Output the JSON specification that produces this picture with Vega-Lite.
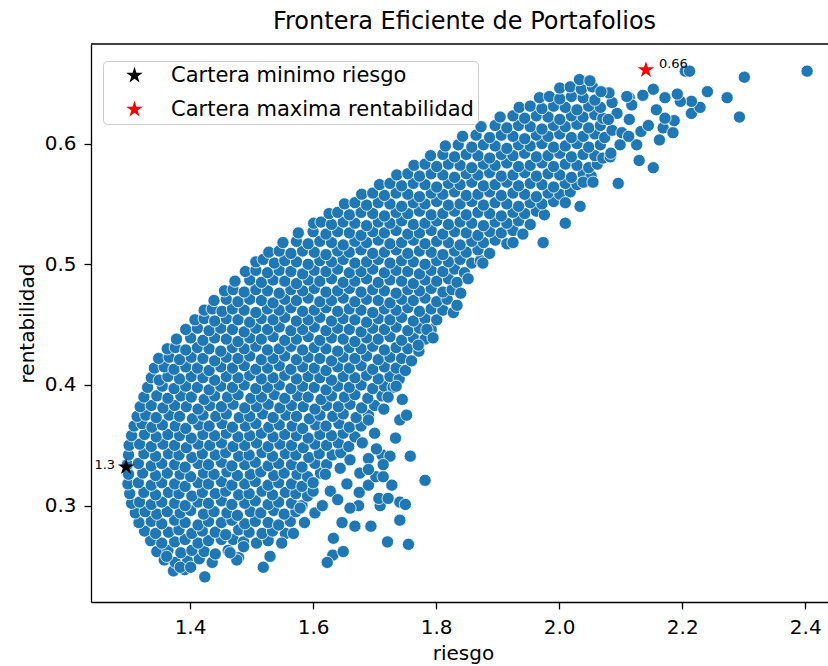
{
"$schema": "https://vega.github.io/schema/vega-lite/v6.json",
"width": 737, "height": 558,
"autosize": {"type": "none"},
"padding": {"left": 91, "top": 44, "right": 0, "bottom": 64},
"background": "white",
"title": {"text": "Frontera Eficiente de Portafolios", "fontSize": 24, "font": "DejaVu Sans", "fontWeight": "normal", "color": "#000000", "anchor": "middle", "offset": 9, "dx": 5},
"datasets": {
"carteras": [
{"cartera": "Cartera minimo riesgo", "x": 1.296, "y": 0.332, "etiqueta": "1.3"},
{"cartera": "Cartera maxima rentabilidad", "x": 2.141, "y": 0.661, "etiqueta": "0.66"}
],
"puntos": [
{"x":1.373,"y":0.246},{"x":1.391,"y":0.247},
{"x":1.358,"y":0.255},{"x":1.376,"y":0.253},{"x":1.396,"y":0.254},{"x":1.415,"y":0.256},{"x":1.436,"y":0.253},
{"x":1.346,"y":0.262},{"x":1.364,"y":0.263},{"x":1.385,"y":0.261},{"x":1.403,"y":0.263},{"x":1.423,"y":0.262},{"x":1.441,"y":0.260},{"x":1.462,"y":0.263},{"x":1.479,"y":0.257},
{"x":1.336,"y":0.271},{"x":1.354,"y":0.269},{"x":1.375,"y":0.270},{"x":1.392,"y":0.272},{"x":1.413,"y":0.269},{"x":1.430,"y":0.271},{"x":1.451,"y":0.272},{"x":1.470,"y":0.272},{"x":1.487,"y":0.270},{"x":1.508,"y":0.269},{"x":1.527,"y":0.271},
{"x":1.326,"y":0.279},{"x":1.344,"y":0.277},{"x":1.365,"y":0.278},{"x":1.382,"y":0.280},{"x":1.403,"y":0.277},{"x":1.420,"y":0.279},{"x":1.441,"y":0.278},{"x":1.458,"y":0.276},{"x":1.479,"y":0.280},{"x":1.496,"y":0.278},{"x":1.517,"y":0.277},{"x":1.534,"y":0.279},{"x":1.555,"y":0.277},
{"x":1.317,"y":0.286},{"x":1.337,"y":0.287},{"x":1.354,"y":0.285},{"x":1.375,"y":0.288},{"x":1.392,"y":0.286},{"x":1.413,"y":0.284},{"x":1.430,"y":0.287},{"x":1.451,"y":0.286},{"x":1.468,"y":0.288},{"x":1.489,"y":0.285},{"x":1.506,"y":0.287},{"x":1.527,"y":0.286},{"x":1.544,"y":0.284},{"x":1.563,"y":0.287},
{"x":1.311,"y":0.294},{"x":1.327,"y":0.295},{"x":1.346,"y":0.293},{"x":1.363,"y":0.295},{"x":1.384,"y":0.294},{"x":1.401,"y":0.296},{"x":1.422,"y":0.293},{"x":1.439,"y":0.295},{"x":1.460,"y":0.294},{"x":1.477,"y":0.292},{"x":1.498,"y":0.295},{"x":1.515,"y":0.294},{"x":1.536,"y":0.296},{"x":1.553,"y":0.293},{"x":1.572,"y":0.295},
{"x":1.305,"y":0.302},{"x":1.318,"y":0.303},{"x":1.337,"y":0.301},{"x":1.354,"y":0.303},{"x":1.375,"y":0.302},{"x":1.392,"y":0.300},{"x":1.413,"y":0.303},{"x":1.430,"y":0.302},{"x":1.451,"y":0.304},{"x":1.468,"y":0.301},{"x":1.489,"y":0.302},{"x":1.506,"y":0.304},{"x":1.527,"y":0.301},{"x":1.544,"y":0.303},{"x":1.565,"y":0.302},{"x":1.582,"y":0.300},
{"x":1.302,"y":0.310},{"x":1.325,"y":0.311},{"x":1.344,"y":0.309},{"x":1.365,"y":0.311},{"x":1.382,"y":0.310},{"x":1.403,"y":0.308},{"x":1.420,"y":0.311},{"x":1.441,"y":0.310},{"x":1.458,"y":0.312},{"x":1.479,"y":0.309},{"x":1.496,"y":0.310},{"x":1.517,"y":0.312},{"x":1.534,"y":0.309},{"x":1.555,"y":0.311},{"x":1.572,"y":0.310},{"x":1.591,"y":0.308},
{"x":1.299,"y":0.318},{"x":1.316,"y":0.319},{"x":1.337,"y":0.317},{"x":1.354,"y":0.319},{"x":1.375,"y":0.318},{"x":1.392,"y":0.316},{"x":1.413,"y":0.319},{"x":1.430,"y":0.318},{"x":1.451,"y":0.320},{"x":1.468,"y":0.317},{"x":1.489,"y":0.318},{"x":1.506,"y":0.320},{"x":1.527,"y":0.317},{"x":1.544,"y":0.319},{"x":1.565,"y":0.318},{"x":1.582,"y":0.316},{"x":1.601,"y":0.319},
{"x":1.300,"y":0.326},{"x":1.323,"y":0.327},{"x":1.344,"y":0.325},{"x":1.363,"y":0.327},{"x":1.384,"y":0.326},{"x":1.401,"y":0.324},{"x":1.422,"y":0.327},{"x":1.439,"y":0.326},{"x":1.460,"y":0.328},{"x":1.477,"y":0.325},{"x":1.498,"y":0.326},{"x":1.515,"y":0.328},{"x":1.536,"y":0.325},{"x":1.553,"y":0.327},{"x":1.574,"y":0.326},{"x":1.591,"y":0.324},{"x":1.612,"y":0.327},
{"x":1.298,"y":0.334},{"x":1.316,"y":0.335},{"x":1.337,"y":0.333},{"x":1.354,"y":0.335},{"x":1.375,"y":0.334},{"x":1.392,"y":0.332},{"x":1.413,"y":0.335},{"x":1.430,"y":0.334},{"x":1.451,"y":0.336},{"x":1.468,"y":0.333},{"x":1.489,"y":0.334},{"x":1.506,"y":0.336},{"x":1.527,"y":0.333},{"x":1.544,"y":0.335},{"x":1.565,"y":0.334},{"x":1.582,"y":0.332},{"x":1.603,"y":0.335},{"x":1.622,"y":0.334},
{"x":1.300,"y":0.342},{"x":1.325,"y":0.343},{"x":1.344,"y":0.341},{"x":1.365,"y":0.343},{"x":1.382,"y":0.342},{"x":1.403,"y":0.340},{"x":1.420,"y":0.343},{"x":1.441,"y":0.342},{"x":1.458,"y":0.344},{"x":1.479,"y":0.341},{"x":1.496,"y":0.342},{"x":1.517,"y":0.344},{"x":1.534,"y":0.341},{"x":1.555,"y":0.343},{"x":1.572,"y":0.342},{"x":1.593,"y":0.340},{"x":1.610,"y":0.343},{"x":1.631,"y":0.342},{"x":1.645,"y":0.344},
{"x":1.301,"y":0.350},{"x":1.318,"y":0.351},{"x":1.337,"y":0.349},{"x":1.356,"y":0.351},{"x":1.375,"y":0.350},{"x":1.394,"y":0.348},{"x":1.413,"y":0.351},{"x":1.432,"y":0.350},{"x":1.451,"y":0.352},{"x":1.470,"y":0.349},{"x":1.489,"y":0.350},{"x":1.508,"y":0.352},{"x":1.527,"y":0.349},{"x":1.546,"y":0.351},{"x":1.565,"y":0.350},{"x":1.584,"y":0.348},{"x":1.603,"y":0.351},{"x":1.622,"y":0.350},{"x":1.641,"y":0.352},{"x":1.658,"y":0.349},
{"x":1.305,"y":0.358},{"x":1.326,"y":0.359},{"x":1.345,"y":0.357},{"x":1.364,"y":0.359},{"x":1.383,"y":0.358},{"x":1.402,"y":0.356},{"x":1.421,"y":0.359},{"x":1.440,"y":0.358},{"x":1.459,"y":0.360},{"x":1.478,"y":0.357},{"x":1.497,"y":0.358},{"x":1.516,"y":0.360},{"x":1.535,"y":0.357},{"x":1.554,"y":0.359},{"x":1.573,"y":0.358},{"x":1.592,"y":0.356},{"x":1.611,"y":0.359},{"x":1.630,"y":0.358},{"x":1.649,"y":0.360},{"x":1.668,"y":0.357},
{"x":1.309,"y":0.366},{"x":1.322,"y":0.368},{"x":1.338,"y":0.365},{"x":1.355,"y":0.367},{"x":1.376,"y":0.366},{"x":1.393,"y":0.364},{"x":1.414,"y":0.367},{"x":1.431,"y":0.366},{"x":1.452,"y":0.368},{"x":1.469,"y":0.365},{"x":1.490,"y":0.366},{"x":1.507,"y":0.368},{"x":1.528,"y":0.365},{"x":1.545,"y":0.367},{"x":1.566,"y":0.366},{"x":1.583,"y":0.364},{"x":1.604,"y":0.367},{"x":1.621,"y":0.366},{"x":1.642,"y":0.368},{"x":1.659,"y":0.365},{"x":1.678,"y":0.366},
{"x":1.314,"y":0.374},{"x":1.328,"y":0.375},{"x":1.345,"y":0.373},{"x":1.366,"y":0.375},{"x":1.383,"y":0.374},{"x":1.404,"y":0.372},{"x":1.421,"y":0.375},{"x":1.442,"y":0.374},{"x":1.459,"y":0.376},{"x":1.480,"y":0.373},{"x":1.497,"y":0.374},{"x":1.518,"y":0.376},{"x":1.535,"y":0.373},{"x":1.556,"y":0.375},{"x":1.573,"y":0.374},{"x":1.594,"y":0.372},{"x":1.611,"y":0.375},{"x":1.632,"y":0.374},{"x":1.649,"y":0.376},{"x":1.670,"y":0.373},{"x":1.690,"y":0.375},
{"x":1.319,"y":0.382},{"x":1.337,"y":0.383},{"x":1.356,"y":0.381},{"x":1.375,"y":0.383},{"x":1.394,"y":0.382},{"x":1.413,"y":0.380},{"x":1.432,"y":0.383},{"x":1.451,"y":0.382},{"x":1.470,"y":0.384},{"x":1.489,"y":0.381},{"x":1.508,"y":0.382},{"x":1.527,"y":0.384},{"x":1.546,"y":0.381},{"x":1.565,"y":0.383},{"x":1.584,"y":0.382},{"x":1.603,"y":0.380},{"x":1.622,"y":0.383},{"x":1.641,"y":0.382},{"x":1.660,"y":0.384},{"x":1.679,"y":0.381},{"x":1.700,"y":0.383},
{"x":1.325,"y":0.390},{"x":1.346,"y":0.391},{"x":1.364,"y":0.389},{"x":1.385,"y":0.391},{"x":1.402,"y":0.390},{"x":1.423,"y":0.388},{"x":1.440,"y":0.391},{"x":1.461,"y":0.390},{"x":1.478,"y":0.392},{"x":1.499,"y":0.389},{"x":1.516,"y":0.390},{"x":1.537,"y":0.392},{"x":1.554,"y":0.389},{"x":1.575,"y":0.391},{"x":1.592,"y":0.390},{"x":1.613,"y":0.388},{"x":1.630,"y":0.391},{"x":1.651,"y":0.390},{"x":1.668,"y":0.392},{"x":1.689,"y":0.389},{"x":1.712,"y":0.391},
{"x":1.331,"y":0.398},{"x":1.355,"y":0.399},{"x":1.374,"y":0.397},{"x":1.393,"y":0.399},{"x":1.412,"y":0.398},{"x":1.431,"y":0.396},{"x":1.450,"y":0.399},{"x":1.469,"y":0.398},{"x":1.488,"y":0.400},{"x":1.507,"y":0.397},{"x":1.526,"y":0.398},{"x":1.545,"y":0.400},{"x":1.564,"y":0.397},{"x":1.583,"y":0.399},{"x":1.602,"y":0.398},{"x":1.621,"y":0.396},{"x":1.640,"y":0.399},{"x":1.659,"y":0.398},{"x":1.678,"y":0.400},{"x":1.697,"y":0.397},{"x":1.716,"y":0.399},{"x":1.730,"y":0.398},
{"x":1.337,"y":0.406},{"x":1.350,"y":0.404},{"x":1.364,"y":0.407},{"x":1.383,"y":0.405},{"x":1.402,"y":0.407},{"x":1.421,"y":0.406},{"x":1.440,"y":0.404},{"x":1.459,"y":0.407},{"x":1.478,"y":0.406},{"x":1.497,"y":0.408},{"x":1.516,"y":0.405},{"x":1.535,"y":0.406},{"x":1.554,"y":0.408},{"x":1.573,"y":0.405},{"x":1.592,"y":0.407},{"x":1.611,"y":0.406},{"x":1.630,"y":0.404},{"x":1.649,"y":0.407},{"x":1.668,"y":0.406},{"x":1.687,"y":0.408},{"x":1.706,"y":0.405},{"x":1.725,"y":0.407},{"x":1.740,"y":0.405},
{"x":1.342,"y":0.414},{"x":1.358,"y":0.415},{"x":1.374,"y":0.413},{"x":1.393,"y":0.415},{"x":1.412,"y":0.414},{"x":1.431,"y":0.412},{"x":1.450,"y":0.415},{"x":1.469,"y":0.414},{"x":1.488,"y":0.416},{"x":1.507,"y":0.413},{"x":1.526,"y":0.414},{"x":1.545,"y":0.416},{"x":1.564,"y":0.413},{"x":1.583,"y":0.415},{"x":1.602,"y":0.414},{"x":1.621,"y":0.412},{"x":1.640,"y":0.415},{"x":1.659,"y":0.414},{"x":1.678,"y":0.416},{"x":1.697,"y":0.413},{"x":1.716,"y":0.415},{"x":1.735,"y":0.414},{"x":1.750,"y":0.412},
{"x":1.349,"y":0.422},{"x":1.366,"y":0.423},{"x":1.383,"y":0.421},{"x":1.402,"y":0.423},{"x":1.421,"y":0.422},{"x":1.440,"y":0.420},{"x":1.459,"y":0.423},{"x":1.478,"y":0.422},{"x":1.497,"y":0.424},{"x":1.516,"y":0.421},{"x":1.535,"y":0.422},{"x":1.554,"y":0.424},{"x":1.573,"y":0.421},{"x":1.592,"y":0.423},{"x":1.611,"y":0.422},{"x":1.630,"y":0.420},{"x":1.649,"y":0.423},{"x":1.668,"y":0.422},{"x":1.687,"y":0.424},{"x":1.706,"y":0.421},{"x":1.725,"y":0.423},{"x":1.744,"y":0.422},{"x":1.760,"y":0.420},
{"x":1.363,"y":0.430},{"x":1.376,"y":0.431},{"x":1.393,"y":0.429},{"x":1.412,"y":0.431},{"x":1.431,"y":0.430},{"x":1.450,"y":0.428},{"x":1.469,"y":0.431},{"x":1.488,"y":0.430},{"x":1.507,"y":0.432},{"x":1.526,"y":0.429},{"x":1.545,"y":0.430},{"x":1.564,"y":0.432},{"x":1.583,"y":0.429},{"x":1.602,"y":0.431},{"x":1.621,"y":0.430},{"x":1.640,"y":0.428},{"x":1.659,"y":0.431},{"x":1.678,"y":0.430},{"x":1.697,"y":0.432},{"x":1.716,"y":0.429},{"x":1.735,"y":0.431},{"x":1.754,"y":0.430},{"x":1.772,"y":0.428},
{"x":1.378,"y":0.438},{"x":1.401,"y":0.439},{"x":1.421,"y":0.437},{"x":1.440,"y":0.439},{"x":1.459,"y":0.438},{"x":1.478,"y":0.436},{"x":1.497,"y":0.439},{"x":1.516,"y":0.438},{"x":1.535,"y":0.440},{"x":1.554,"y":0.437},{"x":1.573,"y":0.438},{"x":1.592,"y":0.440},{"x":1.611,"y":0.437},{"x":1.630,"y":0.439},{"x":1.649,"y":0.438},{"x":1.668,"y":0.436},{"x":1.687,"y":0.439},{"x":1.706,"y":0.438},{"x":1.725,"y":0.440},{"x":1.744,"y":0.437},{"x":1.763,"y":0.439},{"x":1.782,"y":0.438},
{"x":1.393,"y":0.446},{"x":1.412,"y":0.447},{"x":1.431,"y":0.445},{"x":1.450,"y":0.447},{"x":1.469,"y":0.446},{"x":1.488,"y":0.444},{"x":1.507,"y":0.447},{"x":1.526,"y":0.446},{"x":1.545,"y":0.448},{"x":1.564,"y":0.445},{"x":1.583,"y":0.446},{"x":1.602,"y":0.448},{"x":1.621,"y":0.445},{"x":1.640,"y":0.447},{"x":1.659,"y":0.446},{"x":1.678,"y":0.444},{"x":1.697,"y":0.447},{"x":1.716,"y":0.446},{"x":1.735,"y":0.448},{"x":1.754,"y":0.445},{"x":1.773,"y":0.447},{"x":1.792,"y":0.446},
{"x":1.408,"y":0.454},{"x":1.423,"y":0.455},{"x":1.440,"y":0.453},{"x":1.459,"y":0.455},{"x":1.478,"y":0.454},{"x":1.497,"y":0.452},{"x":1.516,"y":0.455},{"x":1.535,"y":0.454},{"x":1.554,"y":0.456},{"x":1.573,"y":0.453},{"x":1.592,"y":0.454},{"x":1.611,"y":0.456},{"x":1.630,"y":0.453},{"x":1.649,"y":0.455},{"x":1.668,"y":0.454},{"x":1.687,"y":0.452},{"x":1.706,"y":0.455},{"x":1.725,"y":0.454},{"x":1.744,"y":0.456},{"x":1.763,"y":0.453},{"x":1.782,"y":0.455},{"x":1.801,"y":0.454},
{"x":1.423,"y":0.462},{"x":1.436,"y":0.463},{"x":1.452,"y":0.461},{"x":1.469,"y":0.463},{"x":1.488,"y":0.462},{"x":1.507,"y":0.460},{"x":1.526,"y":0.463},{"x":1.545,"y":0.462},{"x":1.564,"y":0.464},{"x":1.583,"y":0.461},{"x":1.602,"y":0.462},{"x":1.621,"y":0.464},{"x":1.640,"y":0.461},{"x":1.659,"y":0.463},{"x":1.678,"y":0.462},{"x":1.697,"y":0.460},{"x":1.716,"y":0.463},{"x":1.735,"y":0.462},{"x":1.754,"y":0.464},{"x":1.773,"y":0.461},{"x":1.792,"y":0.463},{"x":1.811,"y":0.462},
{"x":1.439,"y":0.470},{"x":1.459,"y":0.471},{"x":1.478,"y":0.469},{"x":1.497,"y":0.471},{"x":1.516,"y":0.470},{"x":1.535,"y":0.468},{"x":1.554,"y":0.471},{"x":1.573,"y":0.470},{"x":1.592,"y":0.472},{"x":1.611,"y":0.469},{"x":1.630,"y":0.470},{"x":1.649,"y":0.472},{"x":1.668,"y":0.469},{"x":1.687,"y":0.471},{"x":1.706,"y":0.470},{"x":1.725,"y":0.468},{"x":1.744,"y":0.471},{"x":1.763,"y":0.470},{"x":1.782,"y":0.472},{"x":1.801,"y":0.469},{"x":1.818,"y":0.471},
{"x":1.456,"y":0.478},{"x":1.470,"y":0.479},{"x":1.488,"y":0.477},{"x":1.507,"y":0.479},{"x":1.526,"y":0.478},{"x":1.545,"y":0.476},{"x":1.564,"y":0.479},{"x":1.583,"y":0.478},{"x":1.602,"y":0.480},{"x":1.621,"y":0.477},{"x":1.640,"y":0.478},{"x":1.659,"y":0.480},{"x":1.678,"y":0.477},{"x":1.697,"y":0.479},{"x":1.716,"y":0.478},{"x":1.735,"y":0.476},{"x":1.754,"y":0.479},{"x":1.773,"y":0.478},{"x":1.792,"y":0.480},{"x":1.811,"y":0.477},{"x":1.826,"y":0.479},
{"x":1.473,"y":0.486},{"x":1.497,"y":0.487},{"x":1.516,"y":0.485},{"x":1.535,"y":0.487},{"x":1.554,"y":0.486},{"x":1.573,"y":0.484},{"x":1.592,"y":0.487},{"x":1.611,"y":0.486},{"x":1.630,"y":0.488},{"x":1.649,"y":0.485},{"x":1.668,"y":0.486},{"x":1.687,"y":0.488},{"x":1.706,"y":0.485},{"x":1.725,"y":0.487},{"x":1.744,"y":0.486},{"x":1.763,"y":0.484},{"x":1.782,"y":0.487},{"x":1.801,"y":0.486},{"x":1.820,"y":0.488},{"x":1.834,"y":0.485},
{"x":1.490,"y":0.494},{"x":1.507,"y":0.495},{"x":1.526,"y":0.493},{"x":1.545,"y":0.495},{"x":1.564,"y":0.494},{"x":1.583,"y":0.492},{"x":1.602,"y":0.495},{"x":1.621,"y":0.494},{"x":1.640,"y":0.496},{"x":1.659,"y":0.493},{"x":1.678,"y":0.494},{"x":1.697,"y":0.496},{"x":1.716,"y":0.493},{"x":1.735,"y":0.495},{"x":1.754,"y":0.494},{"x":1.773,"y":0.492},{"x":1.792,"y":0.495},{"x":1.811,"y":0.494},{"x":1.830,"y":0.496},{"x":1.846,"y":0.493},
{"x":1.507,"y":0.502},{"x":1.519,"y":0.504},{"x":1.537,"y":0.501},{"x":1.554,"y":0.503},{"x":1.573,"y":0.502},{"x":1.592,"y":0.500},{"x":1.611,"y":0.503},{"x":1.630,"y":0.502},{"x":1.649,"y":0.504},{"x":1.668,"y":0.501},{"x":1.687,"y":0.502},{"x":1.706,"y":0.504},{"x":1.725,"y":0.501},{"x":1.744,"y":0.503},{"x":1.763,"y":0.502},{"x":1.782,"y":0.500},{"x":1.801,"y":0.503},{"x":1.820,"y":0.502},{"x":1.839,"y":0.504},{"x":1.858,"y":0.501},{"x":1.872,"y":0.503},
{"x":1.528,"y":0.510},{"x":1.545,"y":0.511},{"x":1.564,"y":0.509},{"x":1.583,"y":0.511},{"x":1.602,"y":0.510},{"x":1.621,"y":0.508},{"x":1.640,"y":0.511},{"x":1.659,"y":0.510},{"x":1.678,"y":0.512},{"x":1.697,"y":0.509},{"x":1.716,"y":0.510},{"x":1.735,"y":0.512},{"x":1.754,"y":0.509},{"x":1.773,"y":0.511},{"x":1.792,"y":0.510},{"x":1.811,"y":0.508},{"x":1.830,"y":0.511},{"x":1.849,"y":0.510},{"x":1.868,"y":0.512},{"x":1.887,"y":0.509},
{"x":1.551,"y":0.518},{"x":1.573,"y":0.519},{"x":1.592,"y":0.517},{"x":1.611,"y":0.519},{"x":1.630,"y":0.518},{"x":1.649,"y":0.516},{"x":1.668,"y":0.519},{"x":1.687,"y":0.518},{"x":1.706,"y":0.520},{"x":1.725,"y":0.517},{"x":1.744,"y":0.518},{"x":1.763,"y":0.520},{"x":1.782,"y":0.517},{"x":1.801,"y":0.519},{"x":1.820,"y":0.518},{"x":1.839,"y":0.516},{"x":1.858,"y":0.519},{"x":1.877,"y":0.518},{"x":1.896,"y":0.520},{"x":1.915,"y":0.517},
{"x":1.576,"y":0.526},{"x":1.600,"y":0.527},{"x":1.621,"y":0.525},{"x":1.640,"y":0.527},{"x":1.659,"y":0.526},{"x":1.678,"y":0.524},{"x":1.697,"y":0.527},{"x":1.716,"y":0.526},{"x":1.735,"y":0.528},{"x":1.754,"y":0.525},{"x":1.773,"y":0.526},{"x":1.792,"y":0.528},{"x":1.811,"y":0.525},{"x":1.830,"y":0.527},{"x":1.849,"y":0.526},{"x":1.868,"y":0.524},{"x":1.887,"y":0.527},{"x":1.906,"y":0.526},{"x":1.925,"y":0.528},{"x":1.941,"y":0.525},
{"x":1.601,"y":0.534},{"x":1.613,"y":0.535},{"x":1.630,"y":0.533},{"x":1.649,"y":0.535},{"x":1.668,"y":0.534},{"x":1.687,"y":0.532},{"x":1.706,"y":0.535},{"x":1.725,"y":0.534},{"x":1.744,"y":0.536},{"x":1.763,"y":0.533},{"x":1.782,"y":0.534},{"x":1.801,"y":0.536},{"x":1.820,"y":0.533},{"x":1.839,"y":0.535},{"x":1.858,"y":0.534},{"x":1.877,"y":0.532},{"x":1.896,"y":0.535},{"x":1.915,"y":0.534},{"x":1.934,"y":0.536},{"x":1.953,"y":0.533},
{"x":1.626,"y":0.542},{"x":1.640,"y":0.543},{"x":1.659,"y":0.541},{"x":1.678,"y":0.543},{"x":1.697,"y":0.542},{"x":1.716,"y":0.540},{"x":1.735,"y":0.543},{"x":1.754,"y":0.542},{"x":1.773,"y":0.544},{"x":1.792,"y":0.541},{"x":1.811,"y":0.542},{"x":1.830,"y":0.544},{"x":1.849,"y":0.541},{"x":1.868,"y":0.543},{"x":1.887,"y":0.542},{"x":1.906,"y":0.540},{"x":1.925,"y":0.543},{"x":1.944,"y":0.542},{"x":1.963,"y":0.544},{"x":1.976,"y":0.541},
{"x":1.651,"y":0.550},{"x":1.668,"y":0.551},{"x":1.687,"y":0.549},{"x":1.706,"y":0.551},{"x":1.725,"y":0.550},{"x":1.744,"y":0.548},{"x":1.763,"y":0.551},{"x":1.782,"y":0.550},{"x":1.801,"y":0.552},{"x":1.820,"y":0.549},{"x":1.839,"y":0.550},{"x":1.858,"y":0.552},{"x":1.877,"y":0.549},{"x":1.896,"y":0.551},{"x":1.915,"y":0.550},{"x":1.934,"y":0.548},{"x":1.953,"y":0.551},{"x":1.972,"y":0.550},{"x":1.991,"y":0.552},
{"x":1.679,"y":0.558},{"x":1.697,"y":0.559},{"x":1.716,"y":0.557},{"x":1.735,"y":0.559},{"x":1.754,"y":0.558},{"x":1.773,"y":0.556},{"x":1.792,"y":0.559},{"x":1.811,"y":0.558},{"x":1.830,"y":0.560},{"x":1.849,"y":0.557},{"x":1.868,"y":0.558},{"x":1.887,"y":0.560},{"x":1.906,"y":0.557},{"x":1.925,"y":0.559},{"x":1.944,"y":0.558},{"x":1.963,"y":0.556},{"x":1.982,"y":0.559},{"x":2.001,"y":0.558},{"x":2.018,"y":0.560},
{"x":1.708,"y":0.566},{"x":1.725,"y":0.567},{"x":1.744,"y":0.565},{"x":1.763,"y":0.567},{"x":1.782,"y":0.566},{"x":1.801,"y":0.564},{"x":1.820,"y":0.567},{"x":1.839,"y":0.566},{"x":1.858,"y":0.568},{"x":1.877,"y":0.565},{"x":1.896,"y":0.566},{"x":1.915,"y":0.568},{"x":1.934,"y":0.565},{"x":1.953,"y":0.567},{"x":1.972,"y":0.566},{"x":1.991,"y":0.564},{"x":2.010,"y":0.567},{"x":2.029,"y":0.566},{"x":2.041,"y":0.568},
{"x":1.736,"y":0.574},{"x":1.754,"y":0.575},{"x":1.773,"y":0.573},{"x":1.792,"y":0.575},{"x":1.811,"y":0.574},{"x":1.830,"y":0.572},{"x":1.849,"y":0.575},{"x":1.868,"y":0.574},{"x":1.887,"y":0.576},{"x":1.906,"y":0.573},{"x":1.925,"y":0.574},{"x":1.944,"y":0.576},{"x":1.963,"y":0.573},{"x":1.982,"y":0.575},{"x":2.001,"y":0.574},{"x":2.020,"y":0.572},{"x":2.039,"y":0.575},{"x":2.052,"y":0.573},
{"x":1.764,"y":0.582},{"x":1.782,"y":0.583},{"x":1.801,"y":0.581},{"x":1.820,"y":0.583},{"x":1.839,"y":0.582},{"x":1.858,"y":0.580},{"x":1.877,"y":0.583},{"x":1.896,"y":0.582},{"x":1.915,"y":0.584},{"x":1.934,"y":0.581},{"x":1.953,"y":0.582},{"x":1.972,"y":0.584},{"x":1.991,"y":0.581},{"x":2.010,"y":0.583},{"x":2.029,"y":0.582},{"x":2.048,"y":0.580},{"x":2.062,"y":0.583},
{"x":1.791,"y":0.590},{"x":1.811,"y":0.591},{"x":1.830,"y":0.589},{"x":1.849,"y":0.591},{"x":1.868,"y":0.590},{"x":1.887,"y":0.588},{"x":1.906,"y":0.591},{"x":1.925,"y":0.590},{"x":1.944,"y":0.592},{"x":1.963,"y":0.589},{"x":1.982,"y":0.590},{"x":2.001,"y":0.592},{"x":2.020,"y":0.589},{"x":2.039,"y":0.591},{"x":2.058,"y":0.590},{"x":2.071,"y":0.588},
{"x":1.815,"y":0.598},{"x":1.836,"y":0.599},{"x":1.858,"y":0.597},{"x":1.877,"y":0.599},{"x":1.896,"y":0.598},{"x":1.915,"y":0.596},{"x":1.934,"y":0.599},{"x":1.953,"y":0.598},{"x":1.972,"y":0.600},{"x":1.991,"y":0.597},{"x":2.010,"y":0.598},{"x":2.029,"y":0.600},{"x":2.048,"y":0.597},{"x":2.067,"y":0.599},
{"x":1.843,"y":0.606},{"x":1.865,"y":0.607},{"x":1.887,"y":0.605},{"x":1.906,"y":0.607},{"x":1.925,"y":0.606},{"x":1.944,"y":0.604},{"x":1.963,"y":0.607},{"x":1.982,"y":0.606},{"x":2.001,"y":0.608},{"x":2.020,"y":0.605},{"x":2.039,"y":0.606},{"x":2.058,"y":0.608},{"x":2.074,"y":0.605},
{"x":1.873,"y":0.614},{"x":1.896,"y":0.615},{"x":1.915,"y":0.613},{"x":1.934,"y":0.615},{"x":1.953,"y":0.614},{"x":1.972,"y":0.612},{"x":1.991,"y":0.615},{"x":2.010,"y":0.614},{"x":2.029,"y":0.616},{"x":2.048,"y":0.613},{"x":2.067,"y":0.615},
{"x":1.904,"y":0.622},{"x":1.925,"y":0.623},{"x":1.944,"y":0.621},{"x":1.963,"y":0.623},{"x":1.982,"y":0.622},{"x":2.001,"y":0.620},{"x":2.020,"y":0.623},{"x":2.039,"y":0.622},{"x":2.058,"y":0.624},{"x":2.071,"y":0.621},
{"x":1.935,"y":0.630},{"x":1.953,"y":0.631},{"x":1.972,"y":0.629},{"x":1.991,"y":0.631},{"x":2.010,"y":0.630},{"x":2.029,"y":0.628},{"x":2.048,"y":0.631},{"x":2.067,"y":0.630},
{"x":1.968,"y":0.638},{"x":1.984,"y":0.639},{"x":2.001,"y":0.637},{"x":2.020,"y":0.639},{"x":2.039,"y":0.638},{"x":2.058,"y":0.636},
{"x":2.001,"y":0.646},{"x":2.018,"y":0.647},{"x":2.036,"y":0.645},{"x":2.054,"y":0.647},
{"x":2.033,"y":0.653},{"x":2.050,"y":0.652},
{"x":1.424,"y":0.241},{"x":1.384,"y":0.249},{"x":1.401,"y":0.249},{"x":1.362,"y":0.258},{"x":1.476,"y":0.255},{"x":1.465,"y":0.261},{"x":1.487,"y":0.266},{"x":1.519,"y":0.249},{"x":1.530,"y":0.258},{"x":1.549,"y":0.269},{"x":1.568,"y":0.277},{"x":1.579,"y":0.298},{"x":1.600,"y":0.312},{"x":1.600,"y":0.319},{"x":1.603,"y":0.294},{"x":1.628,"y":0.312},{"x":1.633,"y":0.273},{"x":1.632,"y":0.259},{"x":1.649,"y":0.262},{"x":1.623,"y":0.253},{"x":1.647,"y":0.286},{"x":1.668,"y":0.283},{"x":1.694,"y":0.283},{"x":1.674,"y":0.300},{"x":1.675,"y":0.311},{"x":1.709,"y":0.300},{"x":1.707,"y":0.306},{"x":1.722,"y":0.306},{"x":1.721,"y":0.270},{"x":1.755,"y":0.268},{"x":1.741,"y":0.288},{"x":1.741,"y":0.303},{"x":1.750,"y":0.301},{"x":1.728,"y":0.317},{"x":1.690,"y":0.317},{"x":1.702,"y":0.324},{"x":1.714,"y":0.324},{"x":1.676,"y":0.327},{"x":1.644,"y":0.331},{"x":1.690,"y":0.339},{"x":1.712,"y":0.342},{"x":1.725,"y":0.341},{"x":1.714,"y":0.334},{"x":1.758,"y":0.341},{"x":1.782,"y":0.321},{"x":1.741,"y":0.371},{"x":1.752,"y":0.375},{"x":1.735,"y":0.399},{"x":1.771,"y":0.433},{"x":1.785,"y":0.446},{"x":1.795,"y":0.439},{"x":1.828,"y":0.460},{"x":1.834,"y":0.466},{"x":1.840,"y":0.476},{"x":1.852,"y":0.488},{"x":1.876,"y":0.501},{"x":1.925,"y":0.518},{"x":1.974,"y":0.518},{"x":2.010,"y":0.534},{"x":2.034,"y":0.548},{"x":2.010,"y":0.551},{"x":2.039,"y":0.568},{"x":2.055,"y":0.568},{"x":2.096,"y":0.567},{"x":2.083,"y":0.589},{"x":2.084,"y":0.592},{"x":2.099,"y":0.599},{"x":2.126,"y":0.599},{"x":2.130,"y":0.586},{"x":2.153,"y":0.580},{"x":2.163,"y":0.603},{"x":2.086,"y":0.611},{"x":2.102,"y":0.609},{"x":2.113,"y":0.606},{"x":2.133,"y":0.610},{"x":2.145,"y":0.615},{"x":2.169,"y":0.613},{"x":2.185,"y":0.609},{"x":2.187,"y":0.619},{"x":2.172,"y":0.621},{"x":2.158,"y":0.628},{"x":2.215,"y":0.625},{"x":2.229,"y":0.630},{"x":2.215,"y":0.635},{"x":2.197,"y":0.635},{"x":2.192,"y":0.641},{"x":2.172,"y":0.638},{"x":2.153,"y":0.645},{"x":2.136,"y":0.640},{"x":2.114,"y":0.638},{"x":2.118,"y":0.632},{"x":2.114,"y":0.620},{"x":2.094,"y":0.625},{"x":2.080,"y":0.620},{"x":2.086,"y":0.634},{"x":2.110,"y":0.639},{"x":2.081,"y":0.642},{"x":2.068,"y":0.643},{"x":2.241,"y":0.643},{"x":2.273,"y":0.638},{"x":2.293,"y":0.622},{"x":2.301,"y":0.655},{"x":2.205,"y":0.660},{"x":2.212,"y":0.660},{"x":2.403,"y":0.660},
{"x":1.615,"y":0.300},{"x":1.640,"y":0.305},{"x":1.655,"y":0.318},{"x":1.620,"y":0.326},{"x":1.660,"y":0.338},{"x":1.680,"y":0.352},{"x":1.700,"y":0.360},{"x":1.690,"y":0.371},{"x":1.715,"y":0.380},{"x":1.722,"y":0.390},{"x":1.703,"y":0.347},{"x":1.586,"y":0.286},{"x":1.660,"y":0.298},{"x":1.690,"y":0.330},{"x":1.734,"y":0.356},{"x":1.745,"y":0.388}
]
},
"layer": [
{"data": {"name": "puntos"},
 "mark": {"type": "circle", "size": 150, "color": "#1f77b4", "opacity": 1, "stroke": "#ffffff", "strokeWidth": 0.8},
 "encoding": {
  "x": {"field": "x", "type": "quantitative", "scale": {"domain": [1.239, 2.437], "nice": false, "zero": false},
        "axis": {"title": "riesgo", "values": [1.4, 1.6, 1.8, 2.0, 2.2, 2.4], "format": ".1f", "labelBaseline": "alphabetic", "labelPadding": 24, "titleX": 372, "titleY": 57, "titleBaseline": "alphabetic"}},
  "y": {"field": "y", "type": "quantitative", "scale": {"domain": [0.2202, 0.6825], "nice": false, "zero": false},
        "axis": {"title": "rentabilidad", "values": [0.3, 0.4, 0.5, 0.6], "format": ".1f", "labelPadding": 8, "labelBaseline": "middle", "titleX": -58, "titleBaseline": "alphabetic"}}
 }},
{"data": {"values": [{"tope": 0.6825}]},
 "mark": {"type": "rule", "color": "#000000", "strokeWidth": 1.3},
 "encoding": {"y": {"field": "tope", "type": "quantitative", "scale": {"domain": [0.2202, 0.6825], "nice": false, "zero": false}}}},
{"data": {"name": "carteras"},
 "mark": {"type": "point", "shape": "M0,-1L0.225,-0.309L0.951,-0.309L0.363,0.118L0.588,0.809L0,0.382L-0.588,0.809L-0.363,0.118L-0.951,-0.309L-0.225,-0.309Z", "filled": true, "size": 300, "opacity": 1},
 "encoding": {
  "x": {"field": "x", "type": "quantitative", "scale": {"domain": [1.239, 2.437], "nice": false, "zero": false}},
  "y": {"field": "y", "type": "quantitative", "scale": {"domain": [0.2202, 0.6825], "nice": false, "zero": false}},
  "color": {"field": "cartera", "type": "nominal",
            "scale": {"domain": ["Cartera minimo riesgo", "Cartera maxima rentabilidad"], "range": ["#000000", "#ff0000"]},
            "legend": {"title": null, "orient": "none", "legendX": 12, "legendY": 17, "padding": 4, "symbolOffset": 17, "labelOffset": 26, "rowPadding": 12, "labelLimit": 500, "symbolType": "M0,-1L0.225,-0.309L0.951,-0.309L0.363,0.118L0.588,0.809L0,0.382L-0.588,0.809L-0.363,0.118L-0.951,-0.309L-0.225,-0.309Z", "symbolSize": 300, "labelFontSize": 21, "labelFont": "DejaVu Sans", "labelColor": "#000000", "strokeColor": "#cccccc", "fillColor": "#ffffff", "cornerRadius": 4}}
 }},
{"data": {"name": "carteras"},
 "transform": [{"filter": "datum.cartera === 'Cartera minimo riesgo'"}],
 "mark": {"type": "text", "align": "right", "baseline": "middle", "dx": -11, "dy": -2, "fontSize": 13, "font": "DejaVu Sans", "color": "#000000"},
 "encoding": {
  "x": {"field": "x", "type": "quantitative", "scale": {"domain": [1.239, 2.437], "nice": false, "zero": false}},
  "y": {"field": "y", "type": "quantitative", "scale": {"domain": [0.2202, 0.6825], "nice": false, "zero": false}},
  "text": {"field": "etiqueta"}}},
{"data": {"name": "carteras"},
 "transform": [{"filter": "datum.cartera === 'Cartera maxima rentabilidad'"}],
 "mark": {"type": "text", "align": "left", "baseline": "middle", "dx": 13, "dy": -6, "fontSize": 13, "font": "DejaVu Sans", "color": "#000000"},
 "encoding": {
  "x": {"field": "x", "type": "quantitative", "scale": {"domain": [1.239, 2.437], "nice": false, "zero": false}},
  "y": {"field": "y", "type": "quantitative", "scale": {"domain": [0.2202, 0.6825], "nice": false, "zero": false}},
  "text": {"field": "etiqueta"}}}
],
"config": {
 "font": "DejaVu Sans",
 "view": {"stroke": null},
 "axis": {"domainColor": "#000000", "domainWidth": 1.3, "tickColor": "#000000", "tickWidth": 1.3, "tickSize": 7, "labelFontSize": 20, "labelFont": "DejaVu Sans", "labelColor": "#000000", "titleFontSize": 20, "titleFont": "DejaVu Sans", "titleFontWeight": "normal", "titleColor": "#000000", "grid": false}
}
}
